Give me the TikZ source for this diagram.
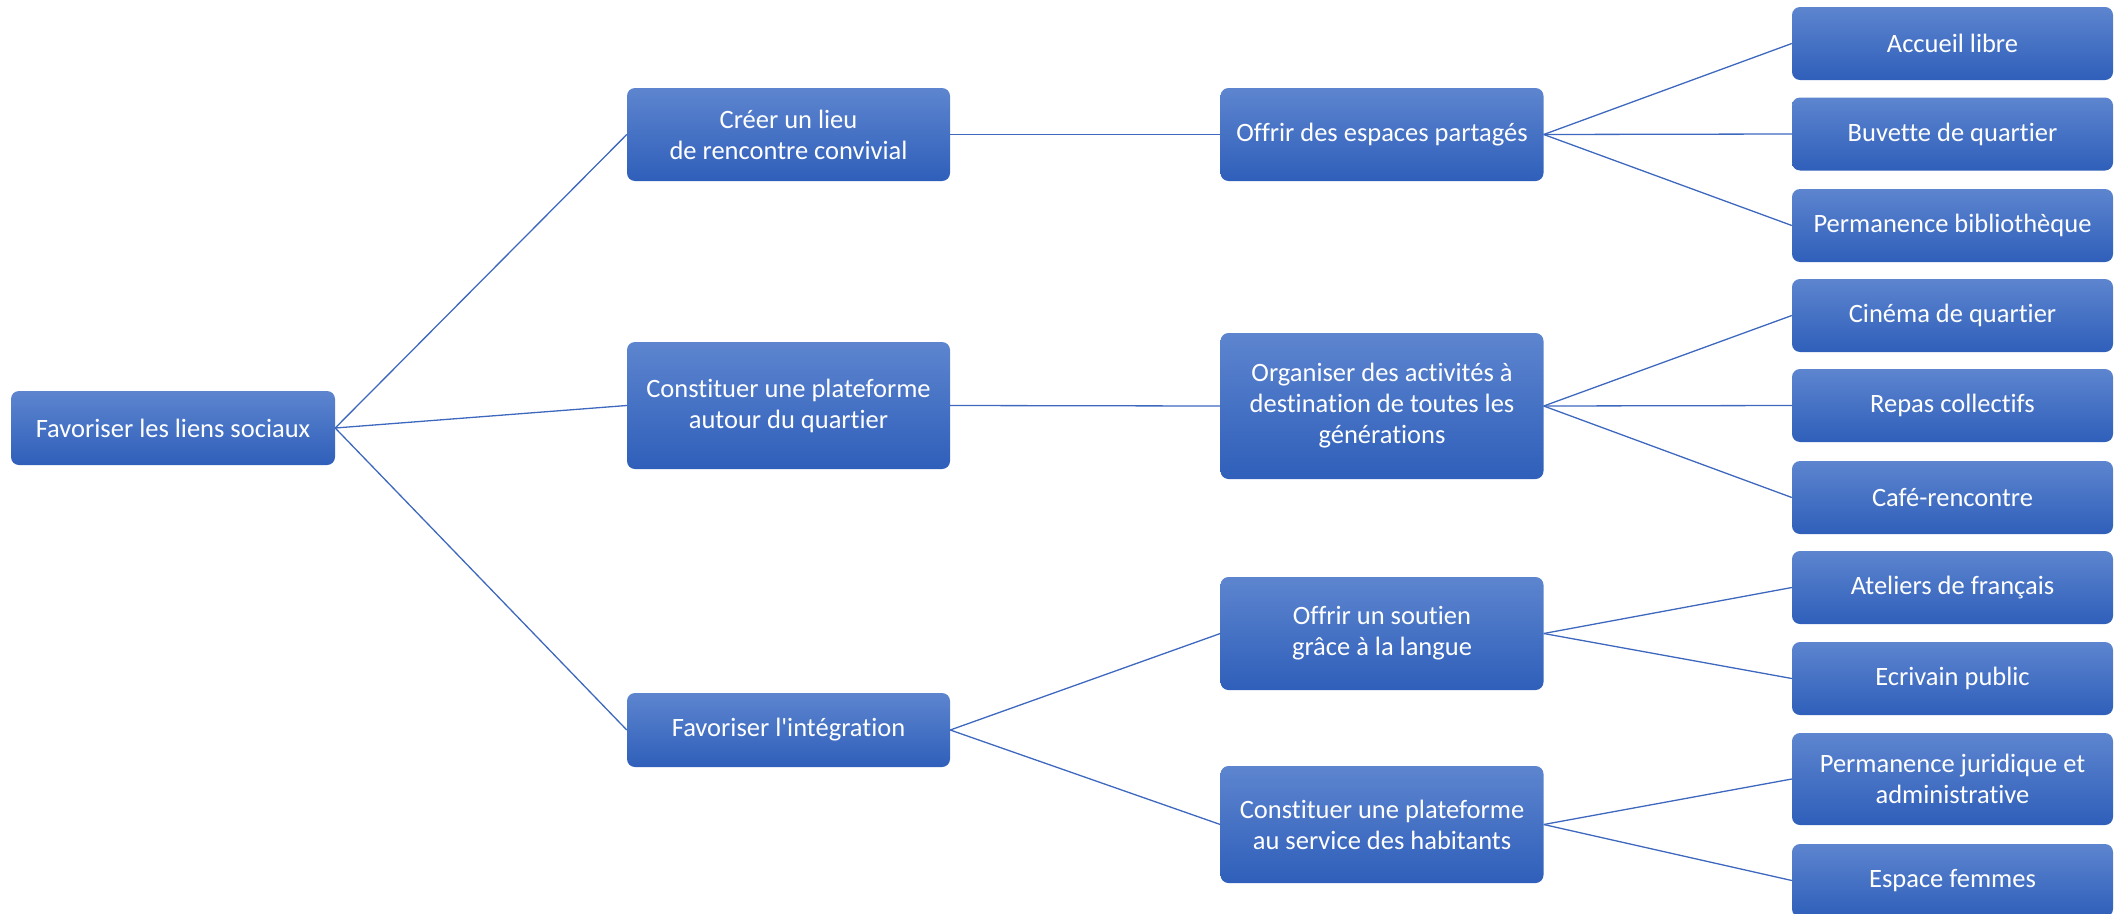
\documentclass[tikz,border=0pt]{standalone}
\usepackage{fontspec}
\setmainfont{Carlito}[Ligatures={NoCommon,NoContextual},Contextuals=NoAlternate]
\usepackage{xcolor}
\usepackage{tikz}
\definecolor{boxtop}{RGB}{93,133,207}
\definecolor{boxbot}{RGB}{47,95,186}
\definecolor{linkcol}{RGB}{62,104,190}
\tikzstyle{box}=[rounded corners=8pt,top color=boxtop,bottom color=boxbot,
  text=white,align=center,inner sep=0pt,font=\fontsize{26.5}{31}\selectfont]
\tikzstyle{mid box}=[box,minimum width=323pt]
\tikzstyle{leaf box}=[box,minimum width=321pt,minimum height=73pt]
\tikzstyle{link}=[linkcol,line width=1.3pt]

\begin{document}
\begin{tikzpicture}[x=1pt,y=-1pt]
  \useasboundingbox (0,0) rectangle (2114,913);
  % root
  \node[box,minimum width=324pt,minimum height=74pt] (liens) at (173,428) {Favoriser les liens sociaux};
  % first level
  \node[mid box,minimum height=93pt] (lieu) at (788.5,134.5) {Créer un lieu\\de rencontre convivial};
  \node[mid box,minimum height=127pt] (plateforme) at (788.5,405.5) {Constituer une plateforme\\autour du quartier};
  \node[mid box,minimum height=74pt] (integration) at (788.5,730) {Favoriser l\textquotesingle intégration};
  % second level
  \node[mid box,minimum height=93pt] (espaces) at (1382,134.5) {Offrir des espaces partagés};
  \node[mid box,minimum height=146pt] (activites) at (1382,406) {Organiser des activités à\\destination de toutes les\\générations};
  \node[mid box,minimum height=113pt] (langue) at (1382,633.5) {Offrir un soutien\\grâce à la langue};
  \node[mid box,minimum height=117pt] (service) at (1382,824.5) {Constituer une plateforme\\au service des habitants};
  % leaves
  \node[leaf box] (accueil) at (1952.5,43.5) {Accueil libre};
  \node[leaf box] (buvette) at (1952.5,134) {Buvette de quartier};
  \node[leaf box] (biblio) at (1952.5,225.5) {Permanence bibliothèque};
  \node[leaf box] (cinema) at (1952.5,315.5) {Cinéma de quartier};
  \node[leaf box] (repas) at (1952.5,405.5) {Repas collectifs};
  \node[leaf box] (cafe) at (1952.5,497.5) {Café-rencontre};
  \node[leaf box] (ateliers) at (1952.5,587.5) {Ateliers de français};
  \node[leaf box] (ecrivain) at (1952.5,678.5) {Ecrivain public};
  \node[leaf box,minimum height=92pt] (juridique) at (1952.5,779) {Permanence juridique et\\administrative};
  \node[leaf box] (femmes) at (1952.5,880.5) {Espace femmes};

  \draw[link] (liens.east) -- (lieu.west);
  \draw[link] (liens.east) -- (plateforme.west);
  \draw[link] (liens.east) -- (integration.west);
  \draw[link] (lieu.east) -- (espaces.west);
  \draw[link] (plateforme.east) -- (activites.west);
  \draw[link] (integration.east) -- (langue.west);
  \draw[link] (integration.east) -- (service.west);
  \draw[link] (espaces.east) -- (accueil.west);
  \draw[link] (espaces.east) -- (buvette.west);
  \draw[link] (espaces.east) -- (biblio.west);
  \draw[link] (activites.east) -- (cinema.west);
  \draw[link] (activites.east) -- (repas.west);
  \draw[link] (activites.east) -- (cafe.west);
  \draw[link] (langue.east) -- (ateliers.west);
  \draw[link] (langue.east) -- (ecrivain.west);
  \draw[link] (service.east) -- (juridique.west);
  \draw[link] (service.east) -- (femmes.west);
\end{tikzpicture}
\end{document}
